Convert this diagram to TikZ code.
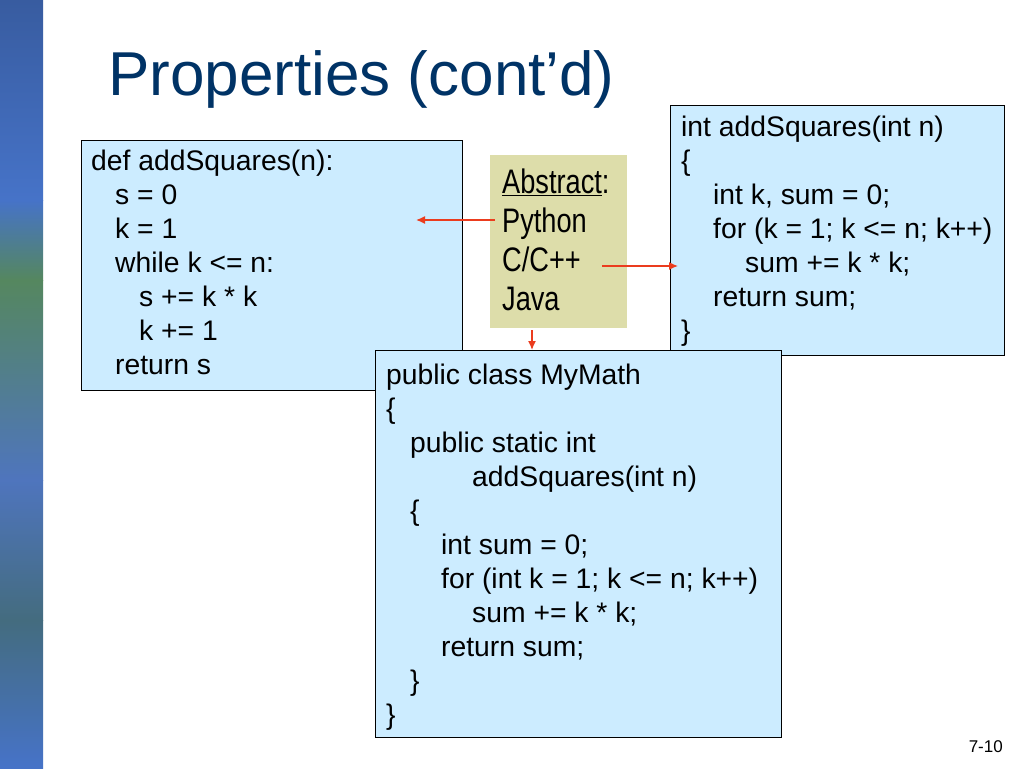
\documentclass[tikz,border=0pt]{standalone}
\usepackage{fontspec}
\setmainfont{Liberation Sans}
\usetikzlibrary{positioning, arrows.meta}
\definecolor{titleblue}{RGB}{0,51,102}
\definecolor{codefill}{RGB}{204,236,255}
\definecolor{absfill}{RGB}{221,221,170}
\definecolor{arrowred}{RGB}{235,60,30}
\definecolor{stripblue}{RGB}{70,115,200}
\definecolor{stripgreen}{RGB}{85,135,95}
\tikzset{
  codebox/.style={draw=black, fill=codefill, line width=1pt, anchor=north west, inner sep=0pt},
  codetext/.style={anchor=north west, align=left, inner sep=0pt, font=\fontsize{28.3}{34}\selectfont},
  redarrow/.style={draw=arrowred, line width=1.4pt, -{Latex[length=9pt, width=8pt]}}
}
\begin{document}
\begin{tikzpicture}[x=1pt, y=-1pt]
        % page and bounding box
        \useasboundingbox (0,0) rectangle (1024,768);
        \fill[white] (0,0) rectangle (1024,768);

        % draw the textured strip on the left
        \shade[top color=stripblue!80!black, bottom color=stripblue] (0,0) rectangle (43,200);
        \shade[top color=stripblue, bottom color=stripgreen] (0,200) rectangle (43,280);
        \shade[top color=stripgreen, bottom color=stripblue!85!gray] (0,280) rectangle (43,480);
        \shade[top color=stripblue!85!gray, bottom color=stripgreen!80!blue] (0,480) rectangle (43,620);
        \shade[top color=stripgreen!80!blue, bottom color=stripblue] (0,620) rectangle (43,768);

        % draw the title
        \node[anchor=base west, inner sep=0pt, text=titleblue, font=\fontsize{62}{62}\selectfont]
            (title) at (108,95) {Properties (cont’d)};

        % draw the python box
        \node[codebox, minimum width=381pt, minimum height=250pt] (pybox) at (81,140) {};
        \node[codetext] (pytext) at (91,150) {def addSquares(n):\\
            \hspace{24pt}s = 0\\
            \hspace{24pt}k = 1\\
            \hspace{24pt}while k <= n:\\
            \hspace{48pt}s += k * k\\
            \hspace{48pt}k += 1\\
            \hspace{24pt}return s};

        % draw the c box
        \node[codebox, minimum width=334pt, minimum height=250pt] (cbox) at (670,105) {};
        \node[codetext] (ctext) at (681,116) {int addSquares(int n)\\
            \{\\
            \hspace{32pt}int k, sum = 0;\\
            \hspace{32pt}for (k = 1; k <= n; k++)\\
            \hspace{64pt}sum += k * k;\\
            \hspace{32pt}return sum;\\
            \}};

        % draw the java box
        \node[codebox, minimum width=406pt, minimum height=387pt] (javabox) at (375,350) {};
        \node[codetext] (javatext) at (386,364) {public class MyMath\\
            \{\\
            \hspace{24pt}public static int\\
            \hspace{86pt}addSquares(int n)\\
            \hspace{24pt}\{\\
            \hspace{55pt}int sum = 0;\\
            \hspace{55pt}for (int k = 1; k <= n; k++)\\
            \hspace{86pt}sum += k * k;\\
            \hspace{55pt}return sum;\\
            \hspace{24pt}\}\\
            \}};

        % draw the abstract box
        \node[fill=absfill, anchor=north west, minimum width=137pt, minimum height=173pt, inner sep=0pt]
            (absbox) at (490,155) {};
        \node[anchor=north west, align=left, inner sep=0pt, xscale=0.8, transform shape,
              font=\fontsize{34}{39}\selectfont] (abstext) at (502,169)
            {\underline{Abstract}:\\ Python\\ C/C++\\ Java};

        % draw the arrows
        \coordinate (pyend) at (416,220);
        \coordinate (cend) at (678,266);
        \draw[redarrow] (495,220) -- (pyend);
        \draw[redarrow] (602,266) -- (cend);
        \draw[redarrow] (532,330) -- (javabox.north west -| 532,0);

        % draw the page number
        \node[anchor=base east, inner sep=0pt, font=\fontsize{17}{17}\selectfont] (pagenum) at (1003,752) {7-10};
    \end{tikzpicture}
\end{document}
